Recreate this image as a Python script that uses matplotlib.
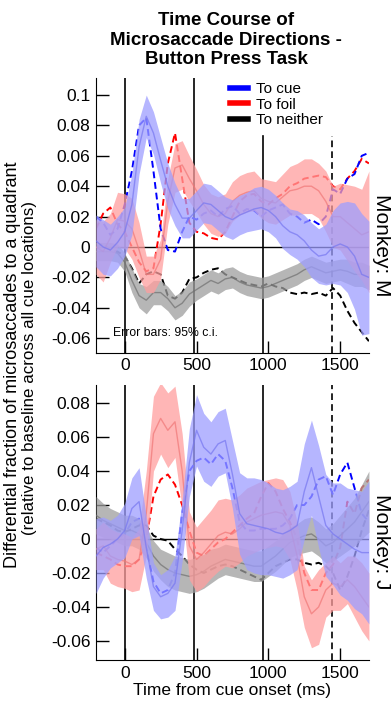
import numpy as np
import matplotlib.pyplot as plt
from matplotlib.lines import Line2D

plt.rcParams['font.family'] = ['Liberation Sans', 'DejaVu Sans']
plt.rcParams['axes.unicode_minus'] = False

# time axis (ms from cue onset), one value every 50 ms
t = np.arange(-200, 1701, 50)

# ---- Monkey M: mean and 95% c.i. half width ----
cue_m = [0.004, 0.0, -0.002, 0.003, 0.01, 0.028, 0.066, 0.086, 0.075, 0.057,
         0.04, 0.028, 0.019, 0.019, 0.024, 0.029, 0.028, 0.024, 0.02, 0.018,
         0.021, 0.023, 0.025, 0.026, 0.024, 0.02, 0.014, 0.01, 0.008, 0.004,
         -0.002, -0.006, -0.005, 0.0, 0.002, 0.0, -0.006, -0.018, -0.02]
cue_m_err = [0.017, 0.018, 0.017, 0.017, 0.016, 0.02, 0.018, 0.014, 0.014, 0.015,
             0.015, 0.014, 0.013, 0.013, 0.013, 0.013, 0.013, 0.013, 0.013, 0.013,
             0.013, 0.013, 0.014, 0.014, 0.014, 0.014, 0.015, 0.015, 0.016, 0.017,
             0.018, 0.018, 0.02, 0.024, 0.027, 0.03, 0.035, 0.04, 0.037]
foil_m = [0.0, -0.003, 0.006, 0.018, 0.017, 0.012, -0.002, -0.018, -0.018, -0.008,
          0.03, 0.052, 0.054, 0.045, 0.037, 0.028, 0.022, 0.02, 0.022, 0.03,
          0.034, 0.036, 0.037, 0.032, 0.03, 0.029, 0.033, 0.037, 0.038, 0.04,
          0.04, 0.037, 0.03, 0.02, 0.02, 0.016, 0.012, 0.008, 0.01]
foil_m_err = [0.018, 0.02, 0.016, 0.018, 0.018, 0.02, 0.018, 0.012, 0.012, 0.013,
              0.015, 0.016, 0.016, 0.015, 0.014, 0.013, 0.013, 0.013, 0.013, 0.013,
              0.013, 0.013, 0.013, 0.013, 0.014, 0.014, 0.015, 0.016, 0.017, 0.018,
              0.018, 0.018, 0.02, 0.02, 0.022, 0.025, 0.028, 0.03, 0.04]
neither_m = [-0.003, -0.003, -0.003, -0.004, -0.01, -0.022, -0.032, -0.035, -0.03, -0.03,
             -0.034, -0.04, -0.037, -0.031, -0.028, -0.025, -0.022, -0.024, -0.021, -0.02,
             -0.023, -0.025, -0.026, -0.027, -0.026, -0.024, -0.022, -0.02, -0.018, -0.015,
             -0.013, -0.015, -0.017, -0.016, -0.015, -0.016, -0.018, -0.018, -0.02]
neither_m_err = [0.006, 0.006, 0.006, 0.006, 0.006, 0.008, 0.008, 0.009, 0.008, 0.008,
                 0.008, 0.008, 0.008, 0.008, 0.007, 0.007, 0.007, 0.007, 0.007, 0.007,
                 0.007, 0.007, 0.007, 0.007, 0.007, 0.007, 0.007, 0.007, 0.007, 0.007,
                 0.007, 0.007, 0.007, 0.007, 0.007, 0.008, 0.008, 0.008, 0.008]
# dashed traces
cue_m_dash = [0.02, 0.016, 0.008, 0.012, 0.028, 0.05, 0.08, 0.085, 0.05, 0.012,
              -0.002, -0.003, 0.01, 0.02, 0.018, 0.022, 0.024, 0.02, 0.025, 0.027,
              0.022, 0.025, 0.024, 0.02, 0.024, 0.026, 0.028, 0.022, 0.02, 0.016,
              0.018, 0.015, 0.02, 0.038, 0.035, 0.045, 0.048, 0.06, 0.062]
foil_m_dash = [0.012, 0.022, 0.026, 0.015, 0.01, 0.0, -0.01, -0.016, -0.014, 0.015,
               0.055, 0.075, 0.045, 0.016, 0.01, 0.009, 0.006, 0.005, 0.01, 0.02,
               0.03, 0.034, 0.035, 0.03, 0.028, 0.032, 0.035, 0.04, 0.042, 0.045,
               0.046, 0.047, 0.046, 0.04, 0.038, 0.045, 0.05, 0.058, 0.055]
neither_m_dash = [0.0, 0.002, -0.002, -0.003, -0.006, -0.014, -0.024, -0.018, -0.016, -0.018,
                  -0.032, -0.034, -0.03, -0.021, -0.02, -0.017, -0.015, -0.014, -0.018, -0.02,
                  -0.022, -0.024, -0.025, -0.026, -0.024, -0.026, -0.027, -0.03, -0.031, -0.03,
                  -0.031, -0.03, -0.032, -0.027, -0.032, -0.042, -0.05, -0.056, -0.062]

# ---- Monkey J ----
cue_j = [-0.01, -0.005, -0.003, 0.0, 0.005, 0.018, 0.022, -0.005, -0.028, -0.034,
         -0.032, -0.026, 0.005, 0.045, 0.064, 0.054, 0.05, 0.056, 0.058, 0.038,
         0.015, 0.009, 0.008, 0.007, 0.006, 0.004, 0.003, 0.005, 0.008, 0.028,
         0.042, 0.025, 0.008, 0.003, 0.0, -0.003, -0.006, -0.008, -0.008]
cue_j_err = [0.022, 0.018, 0.014, 0.014, 0.016, 0.018, 0.02, 0.018, 0.014, 0.013,
             0.014, 0.016, 0.018, 0.02, 0.021, 0.02, 0.019, 0.019, 0.019, 0.02,
             0.024, 0.027, 0.028, 0.028, 0.027, 0.026, 0.026, 0.026, 0.026, 0.028,
             0.028, 0.03, 0.03, 0.03, 0.033, 0.033, 0.035, 0.036, 0.042]
foil_j = [-0.006, -0.004, -0.01, -0.012, -0.013, -0.015, -0.012, 0.015, 0.062, 0.071,
          0.064, 0.069, 0.04, -0.004, -0.012, -0.008, -0.003, 0.002, 0.004, 0.003,
          0.006, 0.01, 0.012, 0.014, 0.015, 0.016, 0.015, 0.008, -0.01, -0.034,
          -0.044, -0.04, -0.03, -0.026, -0.028, -0.024, -0.028, -0.034, -0.04]
foil_j_err = [0.012, 0.014, 0.016, 0.016, 0.016, 0.016, 0.018, 0.025, 0.022, 0.021,
              0.022, 0.021, 0.022, 0.02, 0.019, 0.02, 0.02, 0.021, 0.02, 0.02,
              0.02, 0.02, 0.02, 0.02, 0.02, 0.02, 0.02, 0.02, 0.02, 0.018,
              0.02, 0.022, 0.016, 0.016, 0.014, 0.014, 0.018, 0.02, 0.02]
neither_j = [0.014, 0.011, 0.009, 0.007, 0.005, 0.005, 0.003, -0.002, -0.01, -0.015,
             -0.018, -0.02, -0.021, -0.022, -0.021, -0.019, -0.016, -0.014, -0.012, -0.013,
             -0.014, -0.015, -0.016, -0.016, -0.013, -0.01, -0.006, -0.002, 0.0, 0.002,
             0.003, 0.0, -0.004, -0.002, 0.002, 0.006, 0.01, 0.016, 0.022]
neither_j_err = [0.011, 0.01, 0.009, 0.009, 0.009, 0.009, 0.009, 0.009, 0.009, 0.009,
                 0.01, 0.01, 0.01, 0.01, 0.01, 0.01, 0.01, 0.009, 0.009, 0.009,
                 0.009, 0.009, 0.009, 0.009, 0.009, 0.009, 0.009, 0.009, 0.009, 0.01,
                 0.01, 0.01, 0.01, 0.011, 0.012, 0.013, 0.014, 0.016, 0.018]
cue_j_dash = [-0.005, -0.008, -0.004, 0.0, 0.003, 0.01, 0.012, -0.005, -0.025, -0.032,
              -0.03, -0.02, 0.015, 0.04, 0.046, 0.048, 0.044, 0.05, 0.046, 0.03,
              0.01, 0.005, 0.005, 0.006, 0.006, 0.006, 0.008, 0.012, 0.02, 0.02,
              0.025, 0.035, 0.037, 0.026, 0.038, 0.045, 0.03, 0.015, 0.01]
foil_j_dash = [-0.008, -0.01, -0.012, -0.015, -0.016, -0.016, -0.012, 0.0, 0.025, 0.035,
               0.038, 0.032, 0.02, 0.005, -0.008, -0.01, -0.006, -0.002, 0.0, 0.004,
               0.008, 0.012, 0.015, 0.025, 0.033, 0.028, 0.018, 0.01, 0.0, -0.02,
               -0.03, -0.03, -0.02, -0.015, -0.005, 0.022, 0.015, 0.03, 0.035]
neither_j_dash = [0.012, 0.01, 0.008, 0.005, 0.004, 0.006, 0.008, 0.008, 0.002, 0.0,
                  -0.001, -0.006, -0.01, -0.015, -0.018, -0.02, -0.018, -0.016, -0.015, -0.016,
                  -0.018, -0.02, -0.022, -0.024, -0.02, -0.016, -0.014, -0.012, -0.012, -0.014,
                  -0.015, -0.014, -0.016, -0.02, -0.03, -0.022, -0.01, 0.005, 0.017]

# event markers (ms)
events = [0, 485, 965]
response_time = 1445

xticks = [0, 500, 1000, 1500]
yticks_m = [0.1, 0.08, 0.06, 0.04, 0.02, 0, -0.02, -0.04, -0.06]
yticks_j = [0.08, 0.06, 0.04, 0.02, 0, -0.02, -0.04, -0.06]

# fill / mean-line / dashed colours for cue, foil, neither
fill_col = {'cue': '#9e9eff', 'foil': '#ff9e9e', 'neither': '#9e9e9e'}
mean_col = {'cue': '#7777f0', 'foil': '#f07777', 'neither': '#707070'}
dash_col = {'cue': 'b', 'foil': 'r', 'neither': 'k'}


def draw_panel(ax, bands, dashed, ylim, yticks, top_frac):
    ax.axhline(0, color='k', lw=1, zorder=1)
    ax.axvline(events[0], color='k', lw=1.2, zorder=1)
    ax.axvline(events[1], color='k', lw=1.2, zorder=1)
    ax.axvline(events[2], ymax=top_frac, color='k', lw=1.2, zorder=1)
    ax.axvline(response_time, ymax=top_frac, color='k', lw=1.2,
               dashes=(4, 2.5), zorder=1)
    # dashed traces sit under the shaded bands
    for vals, k in dashed:
        ax.plot(t, vals, color=dash_col[k], lw=1.4, dashes=(3.5, 2), zorder=2)
    for m, e, k in bands:
        m = np.array(m)
        e = np.array(e)
        ax.fill_between(t, m - e, m + e, color=fill_col[k], alpha=0.75, lw=0, zorder=3)
        ax.plot(t, m, color=mean_col[k], alpha=0.7, lw=1, zorder=3)
    ax.set_xlim(-200, 1700)
    ax.set_ylim(*ylim)
    ax.set_xticks(xticks)
    ax.set_yticks(yticks)
    ax.set_yticklabels(['%g' % v for v in yticks])
    ax.tick_params(direction='in', length=9, width=1, labelsize=12.5, pad=4)
    ax.spines['top'].set_visible(False)
    ax.spines['right'].set_visible(False)


fig = plt.figure(figsize=(3.91, 7.03), dpi=100)
ax1 = fig.add_axes([0.2455, 0.498, 0.698, 0.391])
ax2 = fig.add_axes([0.2455, 0.0612, 0.698, 0.391])

draw_panel(ax1,
           [(neither_m, neither_m_err, 'neither'), (foil_m, foil_m_err, 'foil'),
            (cue_m, cue_m_err, 'cue')],
           [(neither_m_dash, 'neither'), (foil_m_dash, 'foil'), (cue_m_dash, 'cue')],
           (-0.0697, 0.1112), yticks_m, 0.79)
draw_panel(ax2,
           [(neither_j, neither_j_err, 'neither'), (foil_j, foil_j_err, 'foil'),
            (cue_j, cue_j_err, 'cue')],
           [(neither_j_dash, 'neither'), (foil_j_dash, 'foil'), (cue_j_dash, 'cue')],
           (-0.0712, 0.0906), yticks_j, 1.0)

handles = [Line2D([], [], color='b', lw=4), Line2D([], [], color='r', lw=4),
           Line2D([], [], color='k', lw=4)]
ax1.legend(handles, ['To cue', 'To foil', 'To neither'], loc='upper left',
           bbox_to_anchor=(0.49, 0.985), frameon=False, fontsize=11,
           handlelength=1.2, handletextpad=0.5, labelspacing=0.1,
           borderpad=0, borderaxespad=0)
ax1.text(0.062, 0.073, 'Error bars: 95% c.i.', transform=ax1.transAxes,
         fontsize=8.8, va='center', ha='left')

ax2.set_xlabel('Time from cue onset (ms)', fontsize=12.5, labelpad=2)

fig.text(0.578, 0.943, 'Time Course of\nMicrosaccade Directions -\nButton Press Task',
         ha='center', va='center', fontsize=13.5, fontweight='bold', linespacing=1.2)
fig.text(0.033, 0.481, 'Differential fraction of microsaccades to a quadrant',
         rotation=90, ha='center', va='center', fontsize=13)
fig.text(0.075, 0.477, '(relative to baseline across all cue locations)',
         rotation=90, ha='center', va='center', fontsize=12.2)
fig.text(0.975, 0.651, 'Monkey: M', rotation=270, ha='center', va='center', fontsize=15)
fig.text(0.975, 0.230, 'Monkey: J', rotation=270, ha='center', va='center', fontsize=15)

plt.savefig('out.png', dpi=100)
